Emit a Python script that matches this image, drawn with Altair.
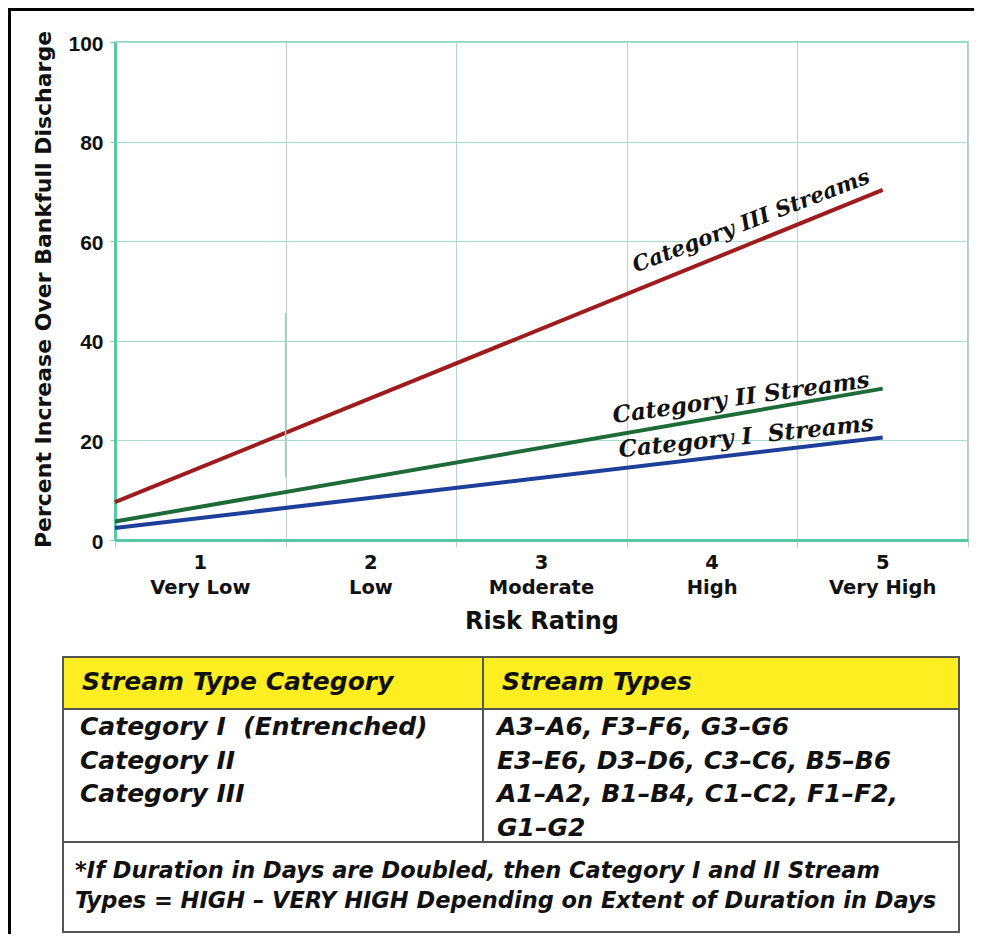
import altair as alt
import pandas as pd

# ---------------- data ----------------
ratings = [1, 2, 3, 4, 5]
rating_names = ["Very Low", "Low", "Moderate", "High", "Very High"]
y_ticks = [0, 20, 40, 60, 80, 100]
band_edges = [0.5, 1.5, 2.5, 3.5, 4.5, 5.5]

series = ["Category III Streams", "Category II Streams", "Category I\u00a0 Streams"]
line_x = [0.5, 5.0]
cat3_vals = [7.6, 70.3]
cat2_vals = [3.7, 30.4]
cat1_vals = [2.4, 20.6]

# label anchor points (data coordinates)
label_x = [4.23, 4.17, 4.20]
label_y = [63.9, 28.5, 20.7]

# faint darker segment on the 1.5 grid line
seg_x = [1.5]
seg_y = [45.6]
seg_y2 = [12.7]

table_header = ["Stream Type Category", "Stream Types"]
table_categories = ["Category I\u00a0 (Entrenched)", "Category II", "Category III"]
table_types = ["A3–A6, F3–F6, G3–G6", "E3–E6, D3–D6, C3–C6, B5–B6",
               "A1–A2, B1–B4, C1–C2, F1–F2,", "G1–G2"]
footnote = ["*If Duration in Days are Doubled, then Category I and II Stream",
            "Types = HIGH – VERY HIGH Depending on Extent of Duration in Days"]

# ---------------- styles ----------------
colors = ["#9e1b1e", "#1e6b3a", "#1d3f9a"]
label_angles = [339, 352, 354]
label_sizes = [21.5, 23, 23]
W, H = 853, 498
SANS = "DejaVu Sans"

xscale = alt.Scale(domain=[0.5, 5.5], nice=False, zero=False)
yscale = alt.Scale(domain=[0, 100], nice=False)

rows = []
for s, vals in zip(series, [cat3_vals, cat2_vals, cat1_vals]):
    for xv, yv in zip(line_x, vals):
        rows.append({"series": s, "rating": xv, "pct": yv})
lines_df = pd.DataFrame(rows)

lines = alt.Chart(lines_df).mark_line(strokeWidth=4).encode(
    x=alt.X("rating:Q", scale=xscale,
            axis=alt.Axis(values=band_edges, labels=False, grid=True,
                          gridColor="#b9d4cb", gridWidth=1,
                          ticks=True, tickSize=7, tickColor="#b5cbc4",
                          domainColor="#5cc7a5", domainWidth=3,
                          title="Risk Rating", titleFont=SANS, titleFontSize=24,
                          titleFontWeight="bold", titleColor="#111",
                          titleX=W / 2, titleY=88, titleBaseline="alphabetic",
                          titleAlign="center")),
    y=alt.Y("pct:Q", scale=yscale,
            axis=alt.Axis(values=y_ticks, grid=True, gridColor="#a9dccb",
                          gridWidth=1, ticks=True, tickSize=5,
                          tickColor="#7fcfb5", domainColor="#5cc7a5",
                          domainWidth=3, labelFont="Liberation Sans",
                          labelFontSize=21, labelFontWeight="bold",
                          labelColor="#111", labelPadding=7, labelOffset=2,
                          title="Percent Increase Over Bankfull Discharge",
                          titleFont=SANS, titleFontSize=22,
                          titleFontWeight="bold", titleColor="#111",
                          titleAngle=270, titleX=-65, titleY=247,
                          titleBaseline="alphabetic", titleAlign="center")),
    color=alt.Color("series:N", scale=alt.Scale(domain=series, range=colors),
                    legend=None),
    detail="series:N",
)

seg = alt.Chart(pd.DataFrame({"rating": seg_x, "pct": seg_y, "pct2": seg_y2})).mark_rule(
    color="#9ccdbd", strokeWidth=1.5).encode(
    x=alt.X("rating:Q", scale=xscale),
    y=alt.Y("pct:Q", scale=yscale), y2="pct2:Q")

layers = [lines, seg]

for i, s in enumerate(series):
    d = pd.DataFrame({"t": [s], "rating": [label_x[i]], "pct": [label_y[i]]})
    layers.append(alt.Chart(d).mark_text(
        font="DejaVu Serif", fontWeight="bold", fontStyle="italic",
        fontSize=label_sizes[i], angle=label_angles[i], color="#111",
        align="center", baseline="middle").encode(
        x=alt.X("rating:Q", scale=xscale),
        y=alt.Y("pct:Q", scale=yscale), text="t:N"))

xl = pd.DataFrame({"rating": ratings, "name": rating_names,
                   "num": [str(r) for r in ratings]})
for field, ypix in [("num", 527), ("name", 552)]:
    layers.append(alt.Chart(xl).mark_text(
        font=SANS, fontWeight="bold", fontSize=19.5, color="#111",
        align="center", baseline="alphabetic").encode(
        x=alt.X("rating:Q", scale=xscale),
        y=alt.value(ypix), text=f"{field}:N"))

one = pd.DataFrame({"a": [0]})

# black frame (top and left)
layers.append(alt.Chart(one).mark_rule(color="#000", strokeWidth=3).encode(
    x=alt.value(-107), x2=alt.value(W + 6), y=alt.value(-32.5)))
layers.append(alt.Chart(one).mark_rule(color="#000", strokeWidth=3).encode(
    x=alt.value(-105.5), y=alt.value(-34), y2=alt.value(900)))

# table
TL, TR, TT, HB, BB, TB, CD = -52, 844, 615, 667, 800, 890, 368
layers.append(alt.Chart(one).mark_rect(fill="#ffffff", stroke="#555",
                                        strokeWidth=2).encode(
    x=alt.value(TL), x2=alt.value(TR), y=alt.value(TT), y2=alt.value(TB)))
layers.append(alt.Chart(one).mark_rect(fill="#fcee21", stroke="#555",
                                        strokeWidth=2).encode(
    x=alt.value(TL), x2=alt.value(TR), y=alt.value(TT), y2=alt.value(HB)))
layers.append(alt.Chart(one).mark_rule(color="#555", strokeWidth=2).encode(
    x=alt.value(TL), x2=alt.value(TR), y=alt.value(BB)))
layers.append(alt.Chart(one).mark_rule(color="#555", strokeWidth=2).encode(
    x=alt.value(CD), y=alt.value(TT), y2=alt.value(BB)))

def tblock(lines_list, px, py, size, lh):
    d = pd.DataFrame({"t": ["\n".join(lines_list)]})
    return alt.Chart(d).mark_text(
        font=SANS, fontWeight="bold", fontStyle="italic", fontSize=size,
        color="#111", align="left", baseline="alphabetic", lineBreak="\n",
        lineHeight=lh).encode(x=alt.value(px), y=alt.value(py), text="t:N")

layers.append(tblock([table_header[0]], -33, 648, 25, 30))
layers.append(tblock([table_header[1]], 387, 648, 25, 30))
layers.append(tblock(table_categories, -35, 693, 25, 33.5))
layers.append(tblock(table_types, 382, 693, 25, 33.5))
layers.append(tblock(footnote, -40, 836, 22.5, 30))

chart = alt.layer(*layers).properties(
    width=W, height=H,
    autosize=alt.AutoSizeParams(type="none"),
    padding={"left": 107, "top": 34, "right": 6, "bottom": 394},
    background="white",
).configure_view(stroke="#8fdcc6", strokeWidth=2)

chart.save("out.html", embed_options={"renderer": "svg", "actions": False})
